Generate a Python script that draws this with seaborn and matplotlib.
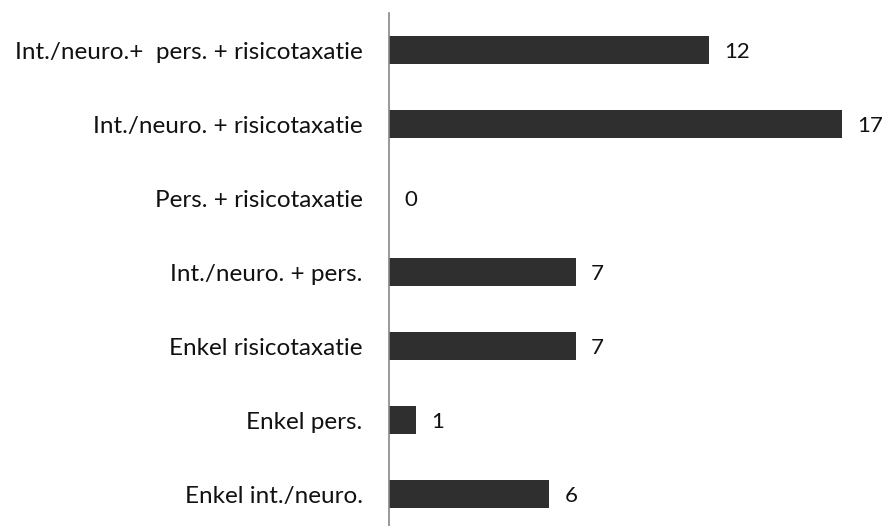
import matplotlib
matplotlib.use("Agg")
import matplotlib.pyplot as plt
import seaborn as sns
import pandas as pd

categories = [
    "Int./neuro.+  pers. + risicotaxatie",
    "Int./neuro. + risicotaxatie",
    "Pers. + risicotaxatie",
    "Int./neuro. + pers.",
    "Enkel risicotaxatie",
    "Enkel pers.",
    "Enkel int./neuro.",
]
values = [12, 17, 0, 7, 7, 1, 6]

sns.set_theme(style="white")
plt.rcParams["font.family"] = ["Lato", "DejaVu Sans"]

df = pd.DataFrame({"cat": categories, "val": values})

W, H = 887, 526
fig = plt.figure(figsize=(W / 100, H / 100), dpi=100)
left = 389 / W
width = 18.5 * 26.67 / W
ax = fig.add_axes([left, 0, width, (H - 13) / H])

sns.barplot(data=df, x="val", y="cat", ax=ax, color="#2f2f2f", width=0.39,
            saturation=1, linewidth=0)

ax.set_xlim(0, 18.5)
ax.set_ylim(6.432, -0.5)
ax.set_xlabel("")
ax.set_ylabel("")
ax.set_xticks([])
for s in ["top", "right", "bottom"]:
    ax.spines[s].set_visible(False)
ax.spines["left"].set_color("#888888")
ax.spines["left"].set_linewidth(1.2)
ax.tick_params(axis="y", length=0, pad=19, labelsize=17.5, labelcolor="#111111")

for i, v in enumerate(values):
    ax.annotate(str(v), xy=(v, i), xytext=(11, -1.5), textcoords="offset points",
                va="center", ha="left", fontsize=16, color="#111111")

fig.savefig("out.png", dpi=100)
